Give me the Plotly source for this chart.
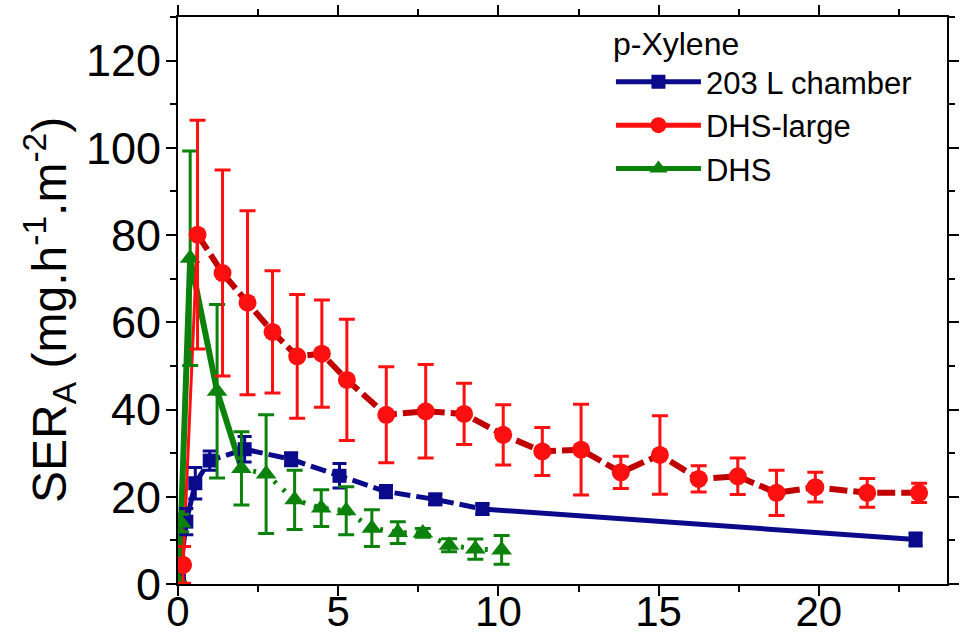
import plotly.graph_objects as go

# ---- data: time (x) vs area-specific emission rate SER_A ----
# 203 L chamber
blue_x = [0.03, 0.26, 0.54, 0.99, 2.08, 3.53, 5.04, 6.49, 8.03, 9.50, 23.02]
blue_y = [0.8, 14.3, 23.1, 28.3, 30.9, 28.6, 24.8, 21.2, 19.4, 17.2, 10.2]
blue_err = [0.0, 3.0, 3.6, 2.2, 2.9, 1.5, 2.8, 1.4, 1.2, 1.2, 1.5]

# DHS-large
red_x = [0.16, 0.61, 1.39, 2.17, 2.95, 3.72, 4.49, 5.27, 6.50, 7.73, 8.93,
         10.15, 11.37, 12.58, 13.82, 15.04, 16.25, 17.47, 18.68, 19.89,
         21.51, 23.13]
red_y = [4.4, 80.1, 71.3, 64.5, 57.8, 52.2, 52.8, 46.8, 38.8, 39.6, 39.0,
         34.2, 30.4, 30.8, 25.6, 29.6, 24.1, 24.7, 20.9, 22.2, 20.9, 20.9]
red_err = [4.2, 26.2, 23.6, 21.1, 14.0, 14.2, 12.3, 13.9, 11.0, 10.7, 7.0,
           6.9, 5.5, 10.4, 3.7, 9.0, 3.0, 4.2, 5.2, 3.4, 3.3, 2.2]

# DHS
green_x = [0.03, 0.10, 0.38, 1.22, 1.98, 2.75, 3.64, 4.47, 5.25, 6.05, 6.86,
           7.64, 8.46, 9.28, 10.10]
green_y = [0.5, 14.0, 74.7, 44.2, 26.5, 25.2, 19.3, 17.4, 16.8, 12.8, 11.8,
           11.7, 8.9, 8.0, 7.8]
green_err = [0.0, 2.0, 24.6, 19.9, 8.4, 13.6, 6.8, 4.2, 5.5, 4.2, 2.5,
             1.0, 1.5, 2.3, 3.3]

x_ticks = [0, 5, 10, 15, 20]
y_ticks = [0, 20, 40, 60, 80, 100, 120]

BLUE = "#0a0a8a"
RED_MARK = "#ff1010"
RED_LINE = "#c00000"
GREEN = "#0c820c"
FONT = "Liberation Sans, Arial, sans-serif"

fig = go.Figure()

# ---- connecting lines (styles change along each series) ----
fig.add_trace(go.Scatter(x=blue_x[:3], y=blue_y[:3], mode="lines",
                         line=dict(color=BLUE, width=5), showlegend=False,
                         hoverinfo="skip"))
fig.add_trace(go.Scatter(x=blue_x[2:10], y=blue_y[2:10], mode="lines",
                         line=dict(color=BLUE, width=5, dash="16px,6px"),
                         showlegend=False, hoverinfo="skip"))
fig.add_trace(go.Scatter(x=blue_x[9:], y=blue_y[9:], mode="lines",
                         line=dict(color=BLUE, width=5), showlegend=False,
                         hoverinfo="skip"))

fig.add_trace(go.Scatter(x=green_x[:5], y=green_y[:5], mode="lines",
                         line=dict(color=GREEN, width=6), showlegend=False,
                         hoverinfo="skip"))
fig.add_trace(go.Scatter(x=green_x[4:], y=green_y[4:], mode="lines",
                         line=dict(color=GREEN, width=5, dash="3px,9px"),
                         showlegend=False, hoverinfo="skip"))

fig.add_trace(go.Scatter(x=red_x[:2], y=red_y[:2], mode="lines",
                         line=dict(color=RED_MARK, width=3), showlegend=False,
                         hoverinfo="skip"))
fig.add_trace(go.Scatter(x=red_x[1:], y=red_y[1:], mode="lines",
                         line=dict(color=RED_LINE, width=6, dash="18px,6px"),
                         showlegend=False, hoverinfo="skip"))

# ---- markers with error bars ----
fig.add_trace(go.Scatter(
    x=blue_x, y=blue_y, mode="markers", showlegend=False,
    marker=dict(symbol="square", size=14, color=BLUE),
    error_y=dict(type="data", array=blue_err, color=BLUE, thickness=3, width=7)))
fig.add_trace(go.Scatter(
    x=green_x, y=green_y, mode="markers", showlegend=False,
    marker=dict(symbol="triangle-up", size=18, color=GREEN),
    error_y=dict(type="data", array=green_err, color=GREEN, thickness=3, width=8)))
fig.add_trace(go.Scatter(
    x=red_x, y=red_y, mode="markers", showlegend=False,
    marker=dict(symbol="circle", size=18, color=RED_MARK),
    error_y=dict(type="data", array=red_err, color=RED_MARK, thickness=3, width=8)))

# ---- legend entries ----
for name, color, sym, size in [("203 L chamber", BLUE, "square", 14),
                               ("DHS-large", RED_MARK, "circle", 18),
                               ("DHS", GREEN, "triangle-up", 18)]:
    fig.add_trace(go.Scatter(x=[None], y=[None], mode="lines+markers", name=name,
                             line=dict(color=color, width=5),
                             marker=dict(symbol=sym, size=size, color=color)))

axis_common = dict(
    showline=True, linecolor="black", linewidth=2, mirror="ticks",
    ticks="outside", ticklen=10, tickwidth=2, tickcolor="black",
    showgrid=False, zeroline=False, automargin=False,
)

fig.update_xaxes(range=[0, 24], tickvals=x_ticks,
                 tickfont=dict(family=FONT, size=42, color="black"),
                 ticklabelstandoff=-20,
                 minor=dict(dtick=2.5, tick0=0, ticks="outside", ticklen=6,
                            tickwidth=2, tickcolor="black"),
                 **axis_common)
fig.update_yaxes(range=[0, 130], tickvals=y_ticks,
                 tickfont=dict(family=FONT, size=45, color="black"),
                 ticklabelstandoff=-4,
                 minor=dict(dtick=10, tick0=0, ticks="outside", ticklen=6,
                            tickwidth=2, tickcolor="black"),
                 **axis_common)

fig.add_annotation(
    text="SER<sub>A</sub> (mg.h<sup>-1</sup>.m<sup>-2</sup>)",
    xref="paper", yref="paper", x=-0.168, y=0.483, textangle=-90,
    showarrow=False, xanchor="center", yanchor="middle",
    font=dict(family=FONT, size=48, color="black"))

fig.update_layout(
    width=962, height=639,
    margin=dict(l=178, r=15, t=17, b=55),
    plot_bgcolor="white", paper_bgcolor="white",
    legend=dict(
        title=dict(text="p-Xylene", font=dict(family=FONT, size=32, color="black")),
        font=dict(family=FONT, size=31, color="black"),
        x=0.563, y=1.006, xanchor="left", yanchor="top",
        bgcolor="rgba(0,0,0,0)", itemwidth=85, tracegroupgap=0,
    ),
)

fig.write_html("out.html")
